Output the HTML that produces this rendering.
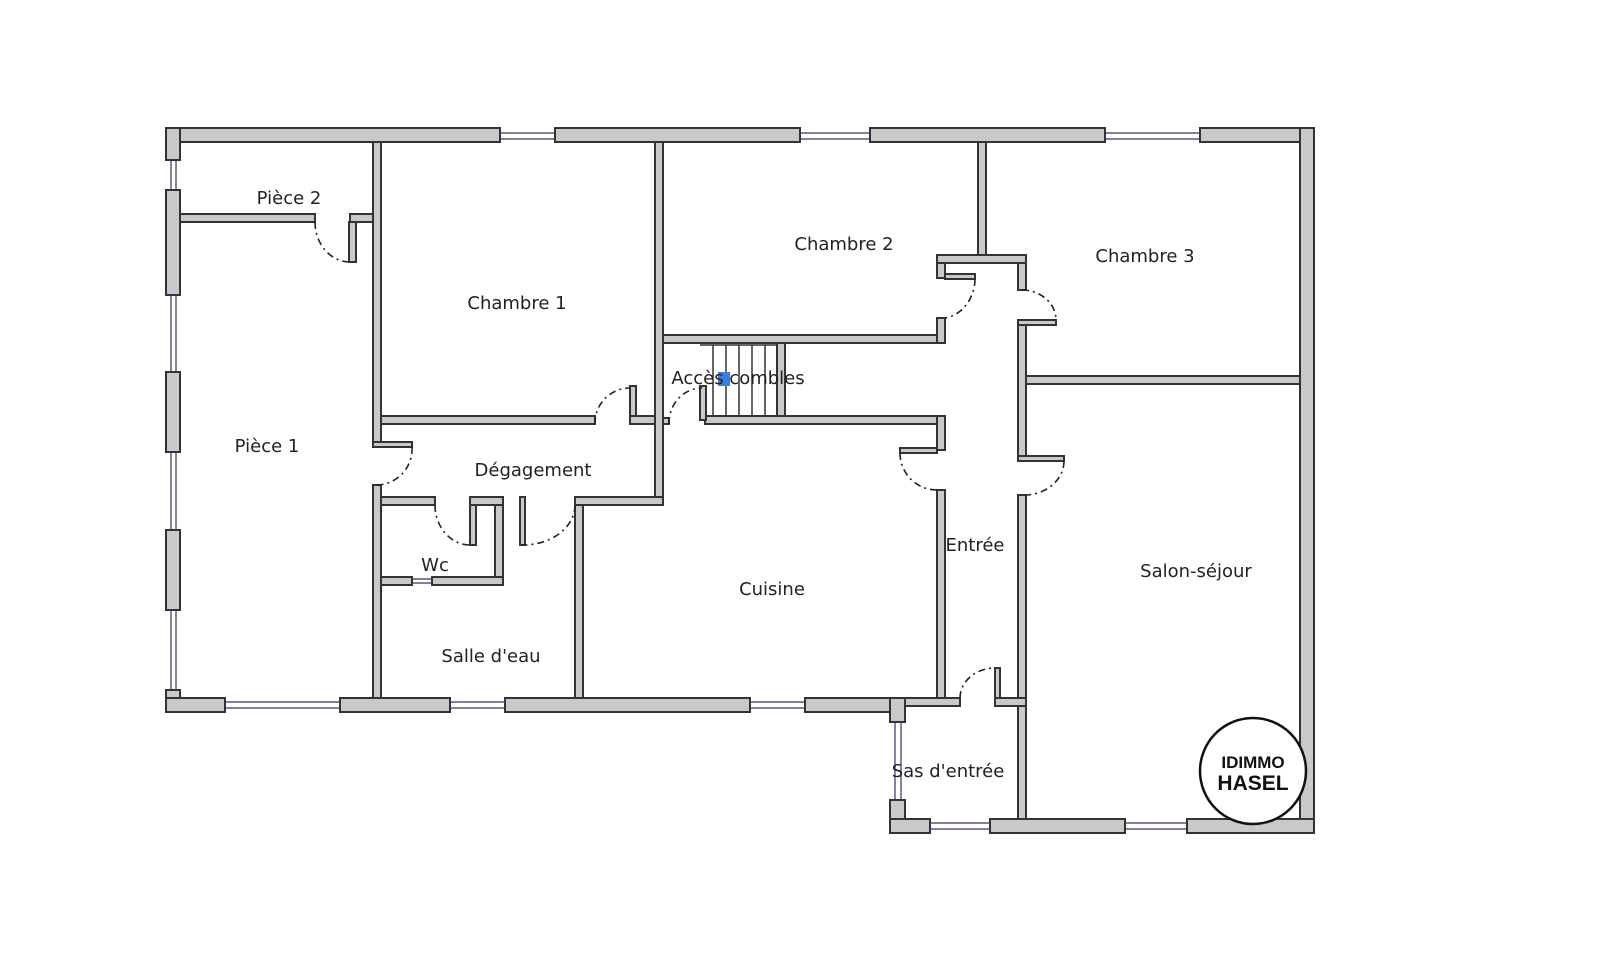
<!DOCTYPE html>
<html><head><meta charset="utf-8"><style>
html,body{margin:0;padding:0;background:#fff;}
svg{display:block;}
text{font-family:"DejaVu Sans","Liberation Sans",sans-serif;font-size:18px;fill:#222;}
</style></head><body>
<svg width="1600" height="966" viewBox="0 0 1600 966" xmlns="http://www.w3.org/2000/svg">
<g fill="#c9c9c9" stroke="#333" stroke-width="2">
<rect x="166" y="128" width="334" height="14"/>
<rect x="555" y="128" width="245" height="14"/>
<rect x="870" y="128" width="235" height="14"/>
<rect x="1200" y="128" width="114" height="14"/>
<rect x="1300" y="128" width="14" height="705"/>
<rect x="166" y="128" width="14" height="32"/>
<rect x="166" y="190" width="14" height="105"/>
<rect x="166" y="372" width="14" height="80"/>
<rect x="166" y="530" width="14" height="80"/>
<rect x="166" y="690" width="14" height="22"/>
<rect x="166" y="698" width="59" height="14"/>
<rect x="340" y="698" width="110" height="14"/>
<rect x="505" y="698" width="245" height="14"/>
<rect x="805" y="698" width="100" height="14"/>
<rect x="890" y="698" width="15" height="24"/>
<rect x="890" y="800" width="15" height="33"/>
<rect x="890" y="819" width="40" height="14"/>
<rect x="990" y="819" width="135" height="14"/>
<rect x="1187" y="819" width="127" height="14"/>
<rect x="180" y="214" width="135" height="8"/>
<rect x="350" y="214" width="31" height="8"/>
<rect x="349" y="222" width="7" height="40"/>
<rect x="373" y="142" width="8" height="303"/>
<rect x="373" y="485" width="8" height="213"/>
<rect x="373" y="442" width="39" height="5"/>
<rect x="381" y="416" width="214" height="8"/>
<rect x="630" y="416" width="33" height="8"/>
<rect x="630" y="386" width="6" height="30"/>
<rect x="655" y="142" width="8" height="363"/>
<rect x="381" y="497" width="54" height="8"/>
<rect x="470" y="497" width="33" height="8"/>
<rect x="470" y="505" width="6" height="40"/>
<rect x="520" y="497" width="5" height="48"/>
<rect x="495" y="505" width="8" height="80"/>
<rect x="381" y="577" width="31" height="8"/>
<rect x="432" y="577" width="71" height="8"/>
<rect x="575" y="497" width="88" height="8"/>
<rect x="575" y="505" width="8" height="193"/>
<rect x="663" y="335" width="282" height="8"/>
<rect x="937" y="318" width="8" height="25"/>
<rect x="978" y="142" width="8" height="120"/>
<rect x="937" y="255" width="89" height="8"/>
<rect x="937" y="263" width="8" height="15"/>
<rect x="945" y="274" width="30" height="5"/>
<rect x="1018" y="263" width="8" height="27"/>
<rect x="1018" y="320" width="38" height="5"/>
<rect x="1018" y="325" width="8" height="133"/>
<rect x="1026" y="376" width="274" height="8"/>
<rect x="1018" y="456" width="46" height="5"/>
<rect x="1018" y="495" width="8" height="324"/>
<rect x="777" y="343" width="8" height="75"/>
<rect x="663" y="418" width="6" height="6"/>
<rect x="705" y="416" width="240" height="8"/>
<rect x="700" y="386" width="6" height="34"/>
<rect x="937" y="416" width="8" height="34"/>
<rect x="900" y="448" width="37" height="5"/>
<rect x="937" y="490" width="8" height="215"/>
<rect x="905" y="698" width="55" height="8"/>
<rect x="995" y="698" width="31" height="8"/>
<rect x="995" y="668" width="5" height="30"/>
<rect x="1018" y="706" width="8" height="113"/>
</g>
<g stroke="#333" stroke-width="1.5">
<line x1="713" y1="345" x2="713" y2="416"/><line x1="726" y1="345" x2="726" y2="416"/>
<line x1="739" y1="345" x2="739" y2="416"/><line x1="752" y1="345" x2="752" y2="416"/>
<line x1="765" y1="345" x2="765" y2="416"/>
<line x1="700" y1="345" x2="777" y2="345"/>
</g>
<rect x="718" y="372" width="12" height="14" fill="#3a7fe0"/>
<g stroke="#336" stroke-width="1.2" fill="none">
<path d="M500 133H555M500 139H555M800 133H870M800 139H870M1105 133H1200M1105 139H1200"/>
<path d="M171 160V190M176 160V190M171 295V372M176 295V372M171 452V530M176 452V530M171 610V690M176 610V690"/>
<path d="M225 702H340M225 708H340M450 702H505M450 708H505M750 702H805M750 708H805"/>
<path d="M895 722V800M901 722V800M930 823H990M930 829H990M1125 823H1187M1125 829H1187M412 579H432M412 583H432"/>
</g>
<g stroke="#222" stroke-width="1.6" fill="none" stroke-dasharray="7,4,2,4">
<path d="M315 222A35 40 0 0 0 350 262"/>
<path d="M595 424A35 35 0 0 1 630 388"/>
<path d="M669 424A33 35 0 0 1 702 388"/>
<path d="M412 447A36 36 0 0 1 377 485"/>
<path d="M435 505A35 40 0 0 0 470 545"/>
<path d="M575 505A52 40 0 0 1 522 545"/>
<path d="M975 279A35 40 0 0 1 945 318"/>
<path d="M1022 290A34 30 0 0 1 1056 320"/>
<path d="M900 453A37 37 0 0 0 937 490"/>
<path d="M1064 461A40 34 0 0 1 1026 495"/>
<path d="M960 698A35 30 0 0 1 995 668"/>
</g>
<text x="289" y="204" text-anchor="middle">Pièce 2</text>
<text x="517" y="309" text-anchor="middle">Chambre 1</text>
<text x="844" y="250" text-anchor="middle">Chambre 2</text>
<text x="1145" y="262" text-anchor="middle">Chambre 3</text>
<text x="738" y="384" text-anchor="middle">Accès combles</text>
<text x="267" y="452" text-anchor="middle">Pièce 1</text>
<text x="533" y="476" text-anchor="middle">Dégagement</text>
<text x="435" y="571" text-anchor="middle">Wc</text>
<text x="975" y="551" text-anchor="middle">Entrée</text>
<text x="1196" y="577" text-anchor="middle">Salon-séjour</text>
<text x="772" y="595" text-anchor="middle">Cuisine</text>
<text x="491" y="662" text-anchor="middle">Salle d'eau</text>
<text x="948" y="777" text-anchor="middle">Sas d'entrée</text>
<circle cx="1253" cy="771" r="53" fill="#fff" stroke="#111" stroke-width="2.5"/>
<text x="1253" y="768" text-anchor="middle" style="font-size:17px;font-weight:bold;fill:#111;font-family:'Liberation Sans',sans-serif">IDIMMO</text>
<text x="1253" y="790" text-anchor="middle" style="font-size:21px;font-weight:bold;fill:#111;font-family:'Liberation Sans',sans-serif">HASEL</text>
</svg>
</body></html>
